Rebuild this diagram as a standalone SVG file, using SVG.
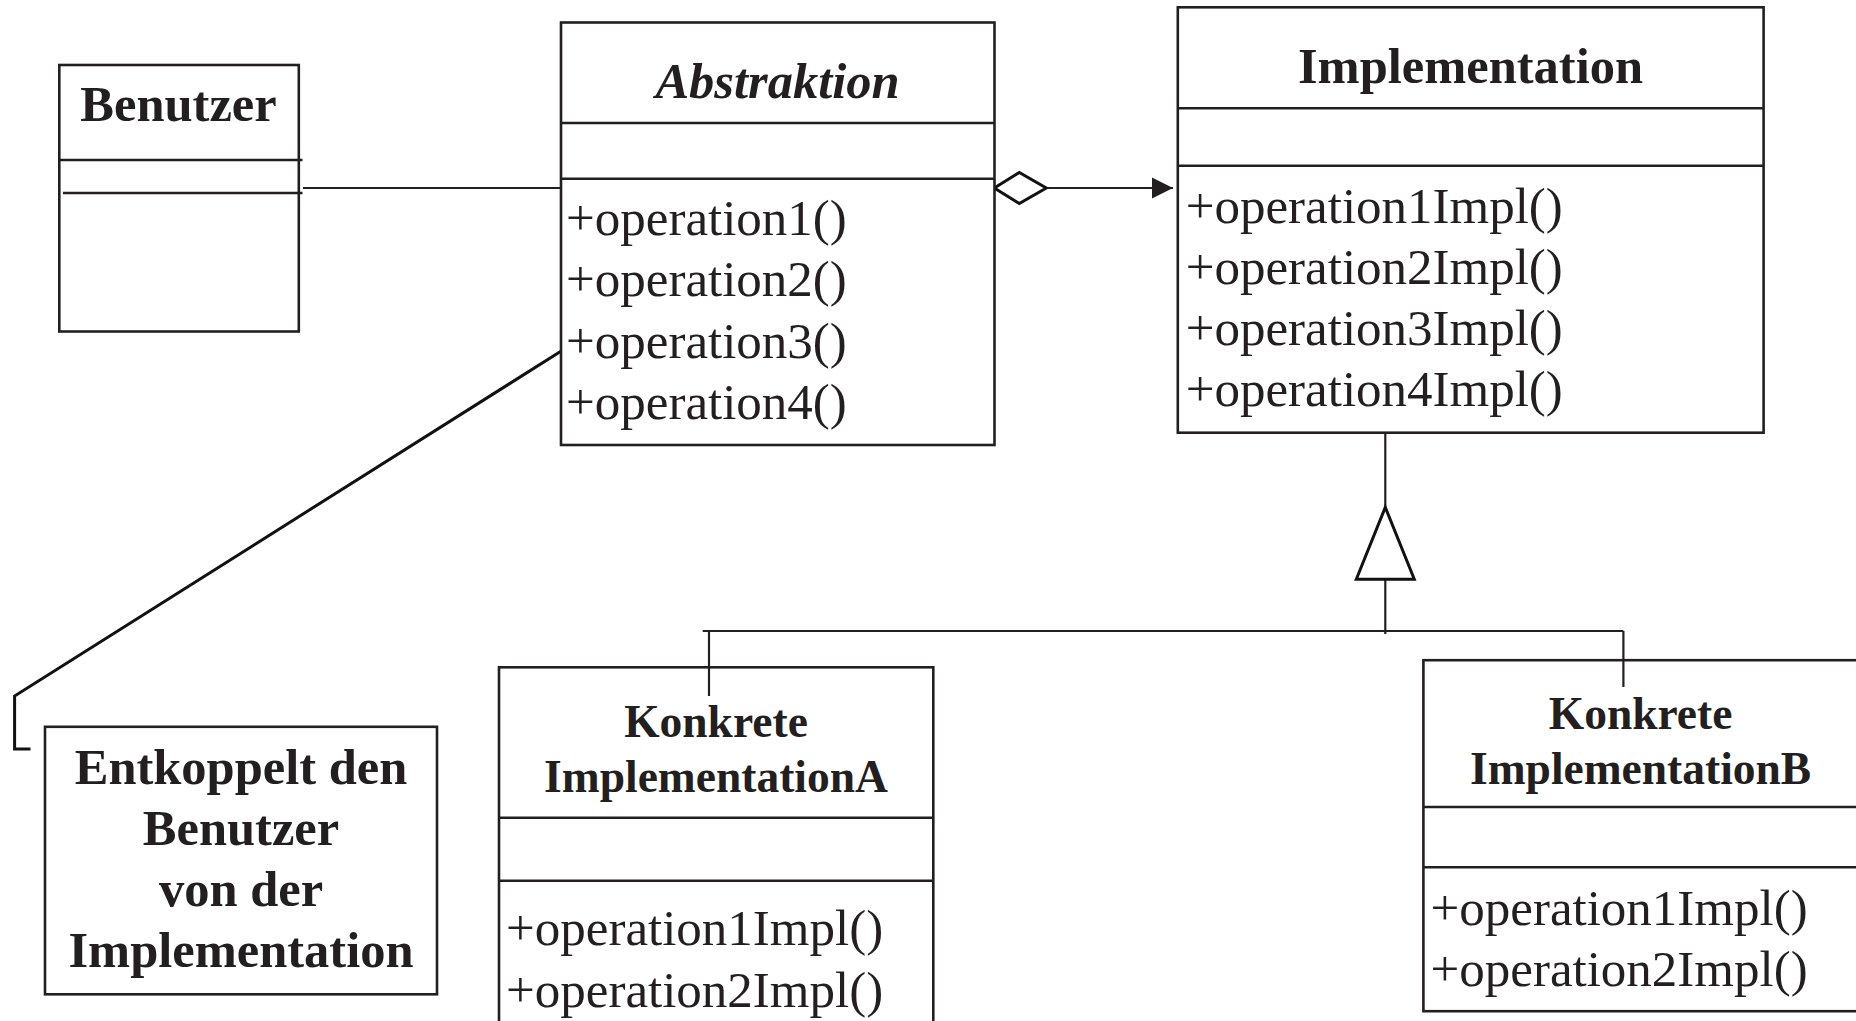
<svg xmlns="http://www.w3.org/2000/svg" width="1856" height="1021" viewBox="0 0 1856 1021">
  <style>
    .box { fill: #ffffff; stroke: #231f20; stroke-width: 2.6; }
    .div { fill: none; stroke: #231f20; stroke-width: 2.6; }
    .conn { fill: none; stroke: #231f20; stroke-width: 2.2; }
    .note-link { fill: none; stroke: #111111; stroke-width: 3; }
    .title { font-family: "Liberation Serif", "Times New Roman", serif; font-weight: bold; font-size: 50.5px; fill: #231f20; text-anchor: middle; }
    .title-it { font-style: italic; }
    .title-sm { font-size: 45.5px; }
    .op { font-family: "Liberation Serif", "Times New Roman", serif; font-size: 51px; fill: #231f20; }
  </style>
  <defs>
    <!-- filled navigation arrowhead -->
    <marker id="arrow-filled" markerUnits="userSpaceOnUse" markerWidth="22" markerHeight="22" refX="21" refY="10.5" orient="auto" overflow="visible">
      <path d="M0,0 L21,10.5 L0,21 Z" fill="#231f20"/>
    </marker>
    <!-- hollow aggregation diamond -->
    <marker id="diamond-open" markerUnits="userSpaceOnUse" markerWidth="54" markerHeight="32" refX="0" refY="15.5" orient="auto" overflow="visible">
      <path d="M0,15.5 L25,0 L52,15.5 L25,31 Z" fill="#ffffff" stroke="#111111" stroke-width="3" stroke-linejoin="miter"/>
    </marker>
    <!-- hollow generalization triangle -->
    <marker id="triangle-open" markerUnits="userSpaceOnUse" markerWidth="74" markerHeight="60" refX="0" refY="29" orient="auto" overflow="visible">
      <path d="M0,0 L72,29 L0,58 Z" fill="#ffffff" stroke="#111111" stroke-width="3"/>
    </marker>
  </defs>

  <rect x="0" y="0" width="1856" height="1021" fill="#ffffff"/>

  <!-- connectors -->
  <g id="connectors">
    <!-- Benutzer to Abstraktion association -->
    <line class="conn" x1="303" y1="188" x2="561" y2="188"/>
    <!-- Abstraktion aggregates Implementation -->
    <line class="conn" x1="994.3" y1="188" x2="1173" y2="188" marker-start="url(#diamond-open)" marker-end="url(#arrow-filled)"/>
    <!-- generalization tree -->
    <line class="conn" x1="1385.3" y1="432" x2="1385.3" y2="507.3"/>
    <line class="conn" x1="1385.3" y1="634" x2="1385.3" y2="579.3" marker-end="url(#triangle-open)"/>
    <line class="conn" x1="702.7" y1="631" x2="1623.4" y2="631"/>
    <line class="conn" x1="709" y1="631" x2="709" y2="696"/>
    <line class="conn" x1="1623.4" y1="631" x2="1623.4" y2="687"/>
    <!-- note anchor -->
    <polyline class="note-link" points="570,345.5 14.6,696 14.6,749 30.5,749"/>
  </g>

  <!-- Benutzer class -->
  <g id="benutzer">
    <rect class="box" x="59.3" y="65" width="239.5" height="266.5"/>
    <line class="div" x1="59.3" y1="160" x2="302.5" y2="160"/>
    <line class="div" x1="63" y1="193" x2="302.5" y2="193"/>
    <text class="title" x="178.5" y="121">Benutzer</text>
  </g>

  <!-- Abstraktion class -->
  <g id="abstraktion">
    <rect class="box" x="561" y="22.5" width="433.5" height="422.5"/>
    <line class="div" x1="561" y1="123" x2="994.5" y2="123"/>
    <line class="div" x1="561" y1="178.7" x2="994.5" y2="178.7"/>
    <text class="title title-it" x="777.5" y="98">Abstraktion</text>
    <text class="op" x="566" y="234.5">+operation1()</text>
    <text class="op" x="566" y="296">+operation2()</text>
    <text class="op" x="566" y="357.5">+operation3()</text>
    <text class="op" x="566" y="419">+operation4()</text>
  </g>

  <!-- Implementation interface -->
  <g id="implementation">
    <rect class="box" x="1177.8" y="7.3" width="585.8" height="425.4"/>
    <line class="div" x1="1177.8" y1="108.3" x2="1763.6" y2="108.3"/>
    <line class="div" x1="1177.8" y1="165.7" x2="1763.6" y2="165.7"/>
    <text class="title" x="1470.5" y="82.7">Implementation</text>
    <text class="op" x="1185.7" y="222.7">+operation1Impl()</text>
    <text class="op" x="1185.7" y="284">+operation2Impl()</text>
    <text class="op" x="1185.7" y="345">+operation3Impl()</text>
    <text class="op" x="1185.7" y="406.3">+operation4Impl()</text>
  </g>

  <!-- Konkrete ImplementationA -->
  <g id="konkrete-implementation-a">
    <rect class="box" x="499" y="667.3" width="434.3" height="380"/>
    <line class="div" x1="499" y1="817.7" x2="933.3" y2="817.7"/>
    <line class="div" x1="499" y1="880.7" x2="933.3" y2="880.7"/>
    <line class="conn" x1="709" y1="667.3" x2="709" y2="696"/>
    <text class="title title-sm" x="716" y="736.7">Konkrete</text>
    <text class="title title-sm" x="716" y="792.3">ImplementationA</text>
    <text class="op" x="506" y="945">+operation1Impl()</text>
    <text class="op" x="506" y="1006.5">+operation2Impl()</text>
  </g>

  <!-- Konkrete ImplementationB -->
  <g id="konkrete-implementation-b">
    <rect class="box" x="1423.4" y="660.2" width="460" height="351"/>
    <line class="div" x1="1423.4" y1="807" x2="1870" y2="807"/>
    <line class="div" x1="1423.4" y1="867.3" x2="1870" y2="867.3"/>
    <line class="conn" x1="1623.4" y1="660.2" x2="1623.4" y2="687"/>
    <text class="title title-sm" x="1640.6" y="729">Konkrete</text>
    <text class="title title-sm" x="1640.6" y="783.5">ImplementationB</text>
    <text class="op" x="1430.5" y="924.5">+operation1Impl()</text>
    <text class="op" x="1430.5" y="985.5">+operation2Impl()</text>
  </g>

  <!-- explanatory note -->
  <g id="note">
    <rect class="box" x="45" y="726.8" width="392" height="267.5"/>
    <text class="title" x="241" y="783.5">Entkoppelt den</text>
    <text class="title" x="241" y="845">Benutzer</text>
    <text class="title" x="241" y="906">von der</text>
    <text class="title" x="241" y="967">Implementation</text>
  </g>
</svg>
